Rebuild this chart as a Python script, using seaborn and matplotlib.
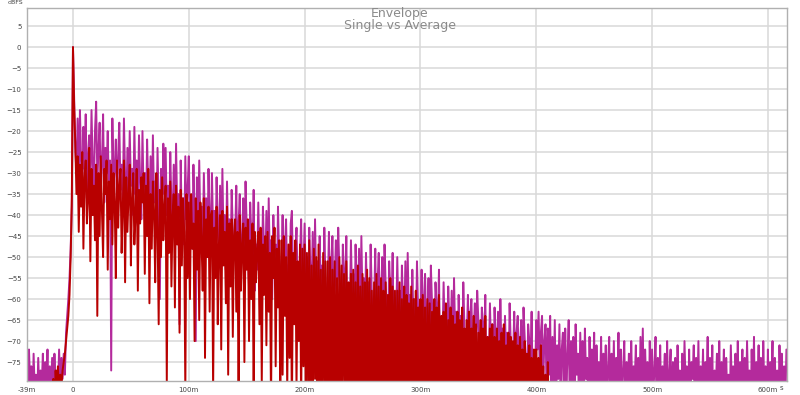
import numpy as np
import pandas as pd
import matplotlib.pyplot as plt
import seaborn as sns

# ==========================================
# DATA (dBFS, 1 ms steps)
# ==========================================

# single measurement (magenta)
single_pre_ms = np.arange(-40, 0, 1)
single_pre_db = [
    -75, -84, -72, -80, -76, -86, -73, -82, -78, -85,
    -74, -83, -77, -81, -73, -87, -75, -80, -72, -84,
    -76, -82, -74, -85, -73, -81, -77, -83, -72, -80,
    -74, -79, -73, -78, -68, -64, -60, -55, -48, -38,
]
single_main_ms = np.arange(0, 617, 1)
single_main_db = [
    0, -12, -24, -30, -17, -33, -15, -27, -35, -19, -29, -16, -36, -26, -21, -32, -15, -28, -34, -20,
    -13, -31, -25, -18, -34, -28, -16, -37, -24, -30, -20, -35, -27, -77, -17, -33, -29, -22, -38, -26,
    -18, -34, -28, -37, -17, -31, -39, -24, -36, -20, -33, -29, -40, -19, -35, -27, -38, -21, -32, -41,
    -20, -36, -30, -42, -22, -34, -39, -26, -43, -21, -37, -32, -44, -24, -38, -60, -29, -41, -23, -35,
    -24, -40, -33, -45, -25, -38, -42, -28, -46, -23, -39, -35, -66, -27, -43, -36, -47, -26, -41, -34,
    -26, -42, -37, -48, -28, -40, -70, -31, -45, -27, -43, -38, -49, -30, -44, -36, -50, -29, -41, -46,
    -30, -45, -39, -51, -31, -43, -48, -33, -52, -29, -46, -40, -53, -32, -47, -41, -54, -34, -44, -50,
    -46, -33, -55, -42, -35, -51, -48, -36, -56, -32, -43, -49, -57, -37, -45, -50, -34, -58, -47, -53,
    -37, -51, -45, -58, -38, -49, -54, -39, -59, -36, -52, -46, -60, -40, -53, -47, -61, -38, -50, -56,
    -54, -40, -61, -48, -41, -57, -52, -62, -42, -39, -55, -63, -49, -43, -56, -64, -50, -41, -59, -53,
    -42, -56, -50, -63, -43, -54, -59, -44, -64, -41, -57, -51, -65, -45, -58, -52, -66, -43, -55, -61,
    -58, -44, -65, -52, -45, -61, -56, -46, -66, -43, -53, -59, -67, -47, -54, -60, -45, -68, -57, -63,
    -46, -60, -54, -67, -47, -58, -63, -48, -68, -45, -61, -55, -69, -49, -62, -56, -70, -47, -59, -65,
    -62, -48, -69, -56, -49, -65, -60, -50, -70, -47, -57, -63, -71, -51, -58, -64, -49, -72, -61, -67,
    -50, -64, -58, -71, -52, -62, -67, -51, -72, -49, -65, -59, -73, -53, -66, -60, -74, -51, -63, -69,
    -66, -53, -73, -60, -54, -69, -64, -55, -74, -52, -61, -67, -75, -56, -62, -68, -53, -76, -65, -71,
    -56, -68, -62, -75, -57, -66, -71, -58, -76, -55, -69, -63, -77, -59, -70, -64, -78, -56, -67, -73,
    -70, -59, -77, -64, -60, -73, -68, -61, -78, -58, -65, -71, -79, -62, -66, -72, -59, -80, -69, -75,
    -61, -72, -66, -79, -62, -70, -75, -63, -80, -60, -73, -67, -81, -64, -74, -68, -82, -61, -71, -77,
    -74, -63, -81, -68, -64, -77, -72, -65, -82, -62, -69, -75, -83, -66, -70, -76, -63, -84, -73, -79,
    -65, -72, -63, -76, -68, -64, -80, -70, -66, -84, -67, -78, -64, -86, -69, -82, -65, -88, -71, -79,
    -66, -85, -72, -68, -90, -67, -81, -74, -65, -87, -70, -83, -69, -92, -66, -78, -73, -86, -68, -82,
    -70, -88, -67, -79, -74, -91, -69, -84, -72, -80, -68, -93, -71, -85, -75, -82, -69, -89, -73, -81,
    -71, -86, -76, -69, -92, -73, -83, -70, -88, -74, -81, -68, -90, -72, -84, -77, -70, -87, -75, -82,
    -73, -89, -70, -84, -76, -80, -71, -93, -74, -85, -69, -82, -67, -88, -72, -81, -75, -91, -70, -86,
    -72, -83, -77, -69, -90, -74, -85, -71, -87, -76, -80, -73, -92, -70, -84, -78, -72, -89, -75, -83,
    -74, -88, -71, -82, -77, -94, -73, -85, -70, -81, -76, -90, -72, -86, -75, -79, -71, -92, -74, -84,
    -70, -87, -76, -83, -72, -91, -75, -80, -69, -88, -74, -85, -71, -93, -77, -82, -73, -89, -70, -86,
    -75, -81, -72, -90, -74, -84, -78, -87, -71, -83, -76, -92, -73, -85, -70, -88, -75, -80, -72, -91,
    -74, -86, -70, -82, -77, -89, -72, -84, -69, -90, -75, -81, -71, -87, -74, -93, -70, -83, -76, -88,
    -72, -85, -75, -80, -70, -91, -74, -84, -77, -88, -71, -82, -73, -90, -76, -86, -72,
]

# average (red)
average_pre_ms = np.arange(-18, 0, 1)
average_pre_db = [
    -84, -79, -86, -77, -82, -76, -85, -78, -81, -77,
    -75, -73, -70, -67, -64, -59, -50, -36,
]
average_main_ms = np.arange(0, 417, 1)
average_main_db = [
    0, -14, -23, -35, -26, -44, -28, -38, -25, -48, -31, -27, -42, -36, -24, -51, -29, -40, -33, -46,
    -28, -64, -30, -45, -26, -39, -50, -29, -35, -27, -53, -32, -41, -28, -47, -30, -37, -55, -27, -43,
    -33, -29, -49, -38, -27, -56, -31, -44, -35, -28, -52, -36, -30, -47, -40, -29, -58, -34, -42, -31,
    -37, -30, -54, -33, -45, -29, -61, -35, -48, -32, -39, -56, -30, -43, -66, -34, -50, -31, -46, -38,
    -33, -80, -36, -49, -32, -57, -40, -35, -62, -33, -47, -38, -68, -34, -52, -36, -44, -82, -35, -55,
    -37, -60, -35, -48, -42, -70, -36, -53, -39, -65, -37, -46, -58, -36, -74, -41, -50, -38, -63, -40,
    -39, -82, -43, -55, -38, -66, -47, -40, -72, -39, -52, -44, -61, -38, -78, -42, -57, -41, -69, -45,
    -41, -63, -44, -84, -40, -58, -47, -42, -75, -43, -53, -41, -70, -46, -60, -42, -85, -44, -56, -48,
    -44, -66, -43, -80, -47, -59, -45, -71, -44, -63, -49, -86, -45, -55, -43, -76, -48, -62, -46, -85,
    -46, -78, -45, -64, -50, -82, -47, -74, -45, -88, -49, -66, -46, -81, -51, -70, -47, -86, -48, -76,
    -47, -86, -49, -81, -46, -90, -52, -84, -48, -79, -50, -90, -47, -83, -53, -88, -49, -81, -51, -92,
    -51, -84, -50, -88, -53, -82, -51, -91, -55, -92, -50, -85, -52, -80, -54, -86, -51, -89, -56, -95,
    -54, -87, -53, -82, -56, -90, -52, -85, -57, -84, -54, -91, -56, -94, -53, -83, -55, -87, -58, -86,
    -56, -88, -54, -83, -57, -86, -55, -93, -58, -85, -56, -86, -59, -90, -55, -91, -57, -84, -58, -89,
    -58, -85, -56, -90, -60, -82, -57, -94, -59, -88, -61, -87, -57, -84, -60, -92, -58, -86, -62, -90,
    -60, -86, -59, -88, -62, -93, -60, -83, -61, -89, -63, -85, -60, -95, -62, -84, -59, -88, -64, -91,
    -63, -91, -61, -85, -65, -88, -62, -96, -64, -84, -66, -90, -63, -87, -65, -94, -62, -86, -67, -89,
    -65, -85, -63, -92, -67, -86, -64, -97, -66, -88, -68, -84, -65, -93, -67, -87, -64, -90, -69, -86,
    -67, -93, -66, -86, -69, -91, -67, -84, -70, -96, -68, -88, -66, -92, -71, -85, -68, -94, -69, -89,
    -70, -87, -68, -95, -71, -90, -69, -86, -72, -93, -70, -89, -73, -97, -71, -88, -74, -92, -72, -95,
    -72, -90, -74, -96, -71, -93, -76, -91, -78, -98, -75, -94, -80, -96, -84, -99, -90,
]

x_ticks = [-39.7, 0, 100, 200, 300, 400, 500, 600]
x_labels = ["-39m", "0", "100m", "200m", "300m", "400m", "500m", "600m"]
y_ticks = list(range(-75, 10, 5))

single = pd.DataFrame({
    "ms": np.concatenate([single_pre_ms, single_main_ms]),
    "db": single_pre_db + single_main_db,
})
average = pd.DataFrame({
    "ms": np.concatenate([average_pre_ms, average_main_ms]),
    "db": average_pre_db + average_main_db,
})

# ==========================================
# PLOT
# ==========================================

sns.set_style("white")
plt.rcParams["font.family"] = ["DejaVu Sans"]
# keep every sample of the spiky envelope (no path simplification)
plt.rcParams["path.simplify"] = False

fig = plt.figure(figsize=(8, 3.95), dpi=100)
ax = fig.add_axes([27 / 800, 1 - 381 / 395, 760 / 800, 373 / 395])

sns.lineplot(data=single, x="ms", y="db", ax=ax, color="#b42a9c",
             lw=1.4, estimator=None, sort=False)
sns.lineplot(data=average, x="ms", y="db", ax=ax, color="#b80000",
             lw=1.4, estimator=None, sort=False)

ax.set_xlim(-39.7, 616.5)
ax.set_ylim(-79.5, 9.3)
ax.set_xticks(x_ticks)
ax.set_xticklabels(x_labels)
ax.set_yticks(y_ticks)
ax.set_xlabel("")
ax.set_ylabel("")
ax.grid(True, color="#d9d9d9", lw=1.1)
ax.set_axisbelow(True)
ax.tick_params(length=0, labelsize=5, colors="#444444", pad=4)
for s in ax.spines.values():
    s.set_color("#b0b0b0")
    s.set_linewidth(1.0)

fig.text(783 / 800, 1 - 388 / 395, "s", fontsize=5, color="#444444",
         ha="right", va="center")
fig.text(8 / 800, 1 - 3 / 395, "dBFS", fontsize=4.5, color="#444444",
         ha="left", va="center")
fig.text(0.5, 1 - 13 / 395, "Envelope", fontsize=9, color="#8a8a8a",
         ha="center", va="center")
fig.text(0.5, 1 - 26 / 395, "Single vs Average", fontsize=9, color="#8a8a8a",
         ha="center", va="center")

plt.savefig("out.png", dpi=100)
